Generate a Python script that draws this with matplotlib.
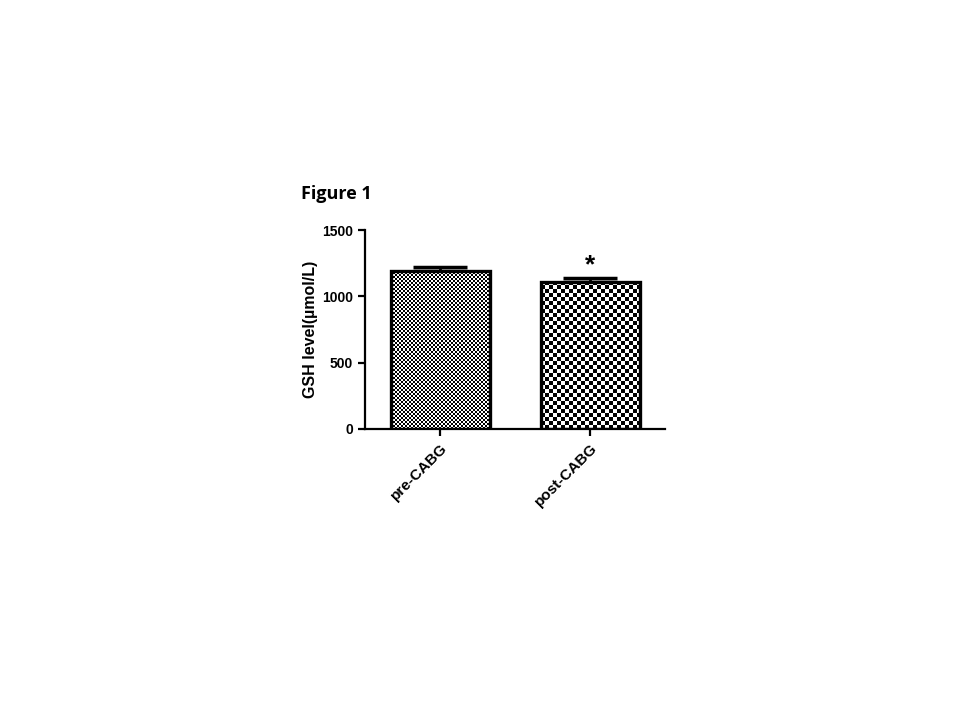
import matplotlib.pyplot as plt
import numpy as np

groups = ['pre-CABG', 'post-CABG']
means = [1191, 1108]
errs = [30, 30]
yticks = [0, 500, 1000, 1500]
checker_px = [2, 4]

fig = plt.figure(figsize=(9.6, 7.2), dpi=100)
ax = fig.add_axes([365 / 960, 1 - 429 / 720, 300 / 960, 199 / 720])

x = np.arange(len(groups))
bars = ax.bar(x, means, width=0.66, facecolor='none', edgecolor='black',
              linewidth=2.4, zorder=2)
ax.errorbar(x, means, yerr=[[0, 0], errs], fmt='none', ecolor='black',
            elinewidth=2, capsize=19.5, capthick=2.5, zorder=1)

# checkerboard fill, clipped to each bar
for bar, c in zip(bars, checker_px):
    nx, ny = 300 // c, 200 // c
    board = (np.indices((ny, nx)).sum(axis=0) % 2).astype(float)
    im = ax.imshow(board, cmap='gray', extent=(-0.5, 1.5, 0, 1500 * 200 / 199),
                   interpolation='nearest', aspect='auto', zorder=1.5,
                   vmin=0, vmax=1)
    im.set_clip_path(bar)
ax.set_xlim(-0.5, 1.5)
ax.set_ylim(0, 1500)

ax.text(1, means[1] + errs[1] + 5, '*', ha='center', va='bottom',
        fontsize=19, fontweight='bold', family='Liberation Sans')

for s in ['top', 'right']:
    ax.spines[s].set_visible(False)
ax.spines['left'].set_linewidth(1.6)
ax.spines['bottom'].set_linewidth(1.6)

ax.set_yticks(yticks)
ax.set_yticklabels([str(v) for v in yticks], fontsize=10, fontweight='bold',
                   family='Liberation Sans')
ax.set_xticks(x)
ax.set_xticklabels(groups, rotation=45, ha='right', rotation_mode='anchor',
                   fontsize=11, fontweight='bold', family='Liberation Sans')
ax.tick_params(axis='both', width=1.6, length=5)
ax.set_ylabel('GSH level(µmol/L)', fontsize=11.5, fontweight='bold',
              family='Liberation Sans', labelpad=3)

fig.text(301 / 960, 1 - 194 / 720, 'Figure 1', fontsize=13,
         fontweight='bold', family='Open Sans', va='center')

fig.savefig('out.png', dpi=100)
